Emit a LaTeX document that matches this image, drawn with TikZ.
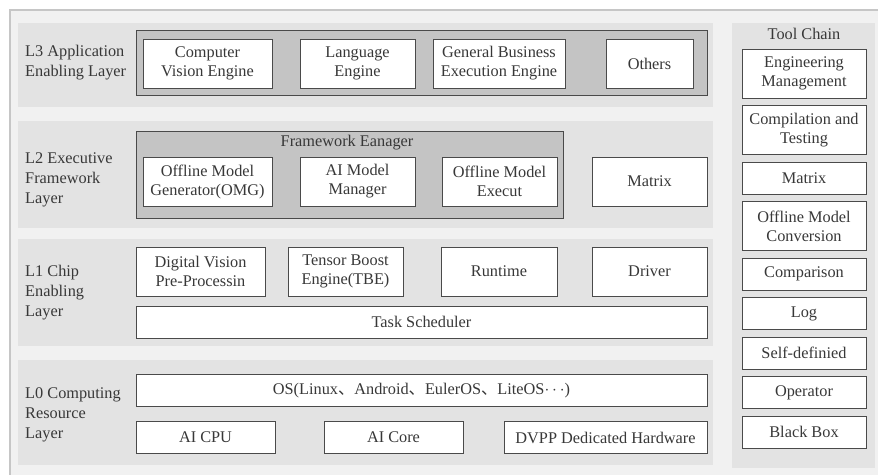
\documentclass[tikz,border=0pt]{standalone}
\usepackage{fontspec}
\setmainfont{Liberation Serif}
\newfontfamily\timesface{Liberation Serif}
\newfontfamily\cjkface{Noto Sans CJK SC}
\usetikzlibrary{positioning}

\definecolor{framegray}{HTML}{F1F1F1}
\definecolor{bandgray}{HTML}{E3E3E3}
\definecolor{groupgray}{HTML}{C4C4C4}
\definecolor{linegray}{HTML}{4A4A4A}
\definecolor{textgray}{HTML}{383838}

\begin{document}
\begin{tikzpicture}[x=1pt,y=-1pt,node distance=7.5pt,
    box/.style={rectangle,draw=linegray,line width=1pt,fill=white,text=textgray,align=center,inner sep=0pt,outer sep=0pt,minimum height=49pt,font=\timesface\fontsize{16.3}{19}\selectfont},
    lowbox/.style={box,minimum height=32pt},
    layerlabel/.style={anchor=west,align=left,text=textgray,inner sep=0pt,font=\timesface\fontsize{16.3}{20}\selectfont},
    title/.style={text=textgray,inner sep=0pt,font=\timesface\fontsize{16.3}{19}\selectfont},
    group/.style={draw=linegray,line width=1pt,fill=groupgray}]
    \useasboundingbox (0,0) rectangle (878,474);
    % background frame and layer bands
    \fill[white] (0,0) rectangle (878,474);
    \filldraw[fill=framegray,draw=gray!45,line width=1.5pt] (10,10) rectangle (880,480);
    \fill[bandgray] (18,23) rectangle (713,107);
    \fill[bandgray] (18,121) rectangle (713,228);
    \fill[bandgray] (18,239) rectangle (713,346);
    \fill[bandgray] (18,360) rectangle (713,465);
    \fill[bandgray] (732,23) rectangle (875,468);
    \filldraw[group] (136,30) rectangle (707,95);
    \filldraw[group] (136,131) rectangle (563,218);

    % L3
    \node[layerlabel] (l3) at (25,63) {L3 Application\\Enabling Layer};
    \node[box,minimum width=129pt] (cve) at (207.5,63.5) {Computer\\Vision Engine};
    \node[box,minimum width=115pt] (lang) at (357.5,63.5) {Language\\Engine};
    \node[box,minimum width=132pt] (gbe) at (499,63.5) {General Business\\Execution Engine};
    \node[box,minimum width=87pt] (others) at (649.5,63.5) {Others};

    % L2
    \node[layerlabel] (l2) at (25,180) {L2 Executive\\Framework\\Layer};
    \node[title] (fm) at (347,143) {Framework Eanager};
    \node[box,minimum width=129pt] (omg) at (207.5,181.5) {Offline Model\\Generator(OMG)};
    \node[box,minimum width=115pt] (aimm) at (357.5,181.5) {AI Model\\Manager};
    \node[box,minimum width=115pt] (ome) at (499.5,181.5) {Offline Model\\Execut};
    \node[box,minimum width=115pt] (matrix) at (649.5,181.5) {Matrix};

    % L1
    \node[layerlabel] (l1) at (25,293) {L1 Chip\\Enabling\\Layer};
    \node[box,minimum width=129pt] (dvpp) at (200.5,271.5) {Digital Vision\\Pre-Processin};
    \node[box,minimum width=115pt] (tbe) at (345.5,271.5) {Tensor Boost\\Engine(TBE)};
    \node[box,minimum width=116pt] (runtime) at (499,271.5) {Runtime};
    \node[box,minimum width=115pt] (driver) at (649.5,271.5) {Driver};
    \node[lowbox,minimum width=571pt] (task) at (421.5,322) {Task Scheduler};

    % L0
    \node[layerlabel] (l0) at (25,415) {L0 Computing\\Resource\\Layer};
    \node[lowbox,minimum width=571pt] (os) at (421.5,390.5) {OS(Linux{\cjkface 、}Android{\cjkface 、}EulerOS{\cjkface 、}LiteOS$\cdots$)};
    \node[lowbox,minimum width=139pt] (aicpu) at (205.5,437.5) {AI CPU};
    \node[lowbox,minimum width=139pt] (aicore) at (393.5,437.5) {AI Core};
    \node[lowbox,minimum width=203pt] (hw) at (605.5,437.5) {DVPP Dedicated Hardware};

    % tool chain
    \node[title] (tc) at (804,34) {Tool Chain};
    \node[box,minimum width=124pt] (eng) at (804,73.5) {Engineering\\Management};
    \node[box,minimum width=124pt,below=of eng] (comp) {Compilation and\\Testing};
    \node[lowbox,minimum width=124pt,below=of comp] (tmatrix) {Matrix};
    \node[box,minimum width=124pt,below=of tmatrix] (omc) {Offline Model\\Conversion};
    \node[lowbox,minimum width=124pt,below=of omc] (cmp) {Comparison};
    \node[lowbox,minimum width=124pt,below=of cmp] (log) {Log};
    \node[lowbox,minimum width=124pt,below=of log] (self) {Self-definied};
    \node[lowbox,minimum width=124pt,below=of self] (op) {Operator};
    \node[lowbox,minimum width=124pt,below=of op] (bb) {Black Box};
\end{tikzpicture}
\end{document}
